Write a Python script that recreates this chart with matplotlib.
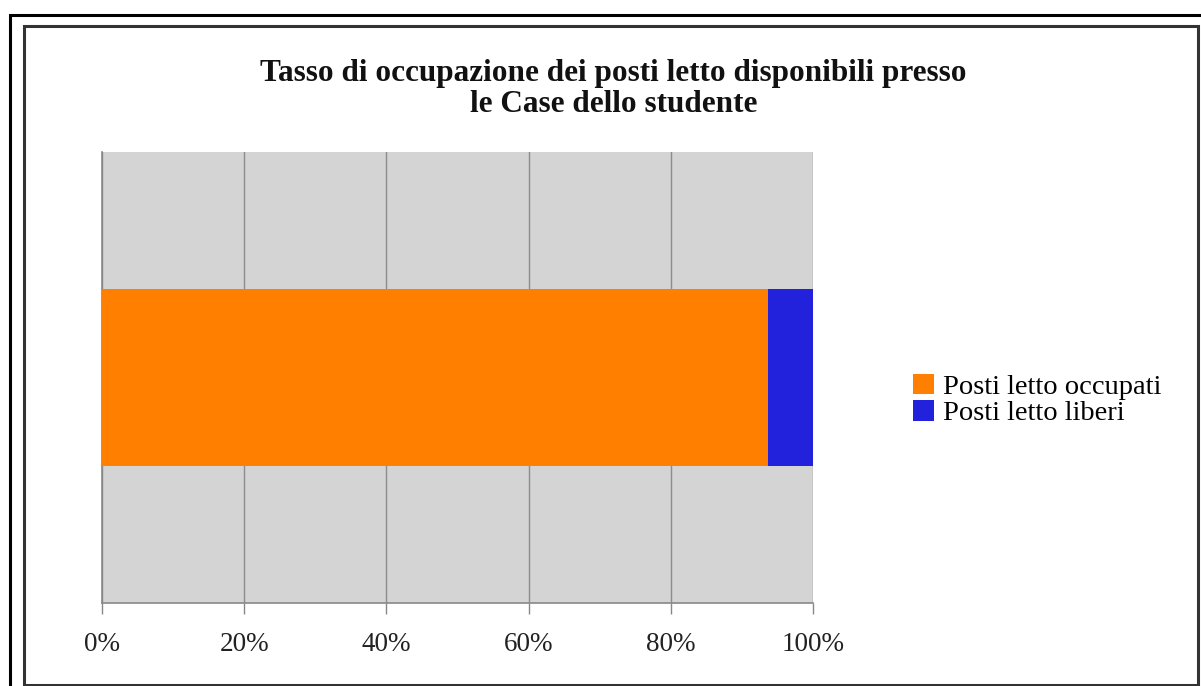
import matplotlib.pyplot as plt
from matplotlib.patches import Rectangle

# dati
categorie = ['Case dello studente']
occupati = [93.7]
liberi = [6.3]
serie = ['Posti letto occupati', 'Posti letto liberi']
colori = ['#FF7F00', '#2222DD']
tick_val = [0, 20, 40, 60, 80, 100]
tick_lab = ['0%', '20%', '40%', '60%', '80%', '100%']

plt.rcParams['font.family'] = ['Liberation Serif', 'DejaVu Serif']

W, H = 1201, 686
fig = plt.figure(figsize=(W / 100, H / 100), dpi=100)
fig.patch.set_facecolor('white')

# cornici
fig.add_artist(Rectangle((10 / W, -0.1), 1.2, 1 - 15 / H + 0.1, transform=fig.transFigure,
                         fill=False, edgecolor='black', linewidth=2.2))
fig.add_artist(Rectangle((24 / W, 1 / H), (1198 - 24) / W, (686 - 27) / H, transform=fig.transFigure,
                         fill=False, edgecolor='#333333', linewidth=2.2))

ax = fig.add_axes([102 / W, 1 - 603 / H, (813 - 102) / W, (603 - 152) / H])
ax.set_facecolor('#D4D4D4')

ax.barh(categorie, occupati, height=0.392, color=colori[0], label=serie[0], zorder=3)
ax.barh(categorie, liberi, left=occupati, height=0.392, color=colori[1], label=serie[1], zorder=3)

ax.set_xlim(0, 100)
ax.set_ylim(-0.5, 0.5)
ax.set_xticks(tick_val)
ax.set_xticklabels(tick_lab, fontsize=19.5, color='#222222')
ax.set_yticks([])
ax.tick_params(axis='x', length=8, width=1, color='#888888', pad=13)
ax.grid(axis='x', color='#8C8C8C', linewidth=1, zorder=1)
ax.set_axisbelow(True)
for s in ['top', 'right']:
    ax.spines[s].set_visible(False)
for s in ['left', 'bottom']:
    ax.spines[s].set_color('#888888')
    ax.spines[s].set_linewidth(1.2)

fig.text(0.511, 1 - 73 / H, 'Tasso di occupazione dei posti letto disponibili presso',
         ha='center', va='center', fontsize=22.5, fontweight='bold', color='#111111')
fig.text(0.511, 1 - 105 / H, 'le Case dello studente',
         ha='center', va='center', fontsize=22.5, fontweight='bold', color='#111111')

ax.legend(loc='center left', bbox_to_anchor=(893 / W, 1 - 400 / H), bbox_transform=fig.transFigure,
          frameon=False, fontsize=20.5, handlelength=0.75, handleheight=0.75, handletextpad=0.3,
          labelspacing=0.0, borderpad=0.2)

fig.savefig('out.png', dpi=100)
